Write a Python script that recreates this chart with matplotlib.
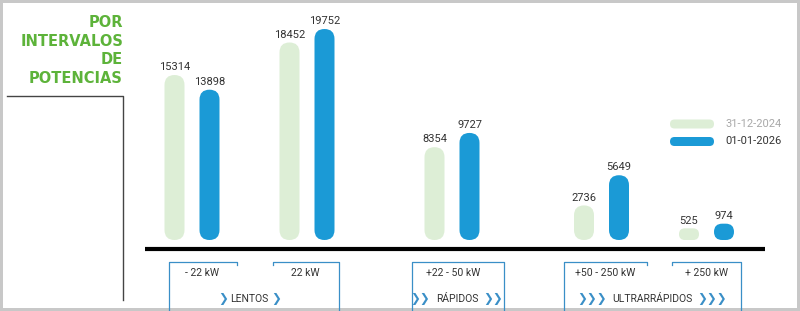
import matplotlib
matplotlib.use("Agg")
import matplotlib.pyplot as plt
from matplotlib.patches import FancyBboxPatch, Rectangle

# data
ranges = ["- 22 kW", "22 kW", "+22 - 50 kW", "+50 - 250 kW", "+ 250 kW"]
series = ["31-12-2024", "01-01-2026"]
val_2024 = [15314, 18452, 8354, 2736, 525]
val_2026 = [13898, 19752, 9727, 5649, 974]
groups = ["LENTOS", "RÁPIDOS", "ULTRARRÁPIDOS"]
chevrons = ["❯", "❯❯", "❯❯❯"]

# layout (pixel units, figure is 800x311)
W, H = 800, 311
range_x = [192, 307, 452, 601.5, 706.5]
pair_off = 17.5
bar_w = 20
bar_bottom_px = 240
base_val = -600
px_per_unit = 211 / (max(val_2026) - base_val)

LIGHT = "#ddeed6"
BLUE = "#1b9ad6"
GREEN = "#5db33a"
BOXBLUE = "#3a8fc7"
TXT = "#333333"
NUM_FONT = ["Roboto", "DejaVu Sans"]

fig = plt.figure(figsize=(W / 100, H / 100), dpi=100)
fig.patch.set_facecolor("white")

# bars axes: x in pixels, y in data units
ax = fig.add_axes([0, 0, 1, 1])
ax.set_xlim(0, W)
ax.set_ylim(base_val - (H - bar_bottom_px) / px_per_unit,
            base_val + bar_bottom_px / px_per_unit)
ax.axis("off")
ax.patch.set_alpha(0)

asp = 1 / px_per_unit


def pill(a, xc, y0, h, w, color, aspect):
    r = min(w / 2, h / aspect / 2)
    a.add_patch(FancyBboxPatch((xc - w / 2, y0), w, h,
                               boxstyle=f"round,pad=0,rounding_size={r}",
                               mutation_aspect=aspect, fc=color, ec="none"))


for i, x in enumerate(range_x):
    for v, dx, c in [(val_2024[i], -pair_off, LIGHT), (val_2026[i], pair_off, BLUE)]:
        pill(ax, x + dx, base_val, v - base_val, bar_w, c, asp)
        ax.annotate(str(v), (x + dx, v), xytext=(0, 2), textcoords="offset points",
                    ha="center", va="bottom", fontsize=8, color=TXT, family=NUM_FONT)

# decoration axes in pixel coordinates
dx_ = fig.add_axes([0, 0, 1, 1], zorder=2)
dx_.set_xlim(0, W)
dx_.set_ylim(H, 0)
dx_.axis("off")
dx_.patch.set_alpha(0)

# title
dx_.text(123, 15, "POR\nINTERVALOS\nDE\nPOTENCIAS", ha="right", va="top",
         multialignment="right", linespacing=1.3, fontsize=10.5, fontweight="bold",
         color=GREEN, family="DejaVu Sans")

# corner line
dx_.plot([7, 123, 123], [96, 96, 300], color="#444444", lw=1)

# baseline
dx_.plot([145, 765], [249, 249], color="black", lw=3, solid_capstyle="butt")

# legend
for j, (lab, c, tc) in enumerate(zip(series, [LIGHT, BLUE], ["#a8a8a8", TXT])):
    yc = 124 + j * 17.5
    dx_.add_patch(FancyBboxPatch((670, yc - 4.5), 44, 9,
                                 boxstyle="round,pad=0,rounding_size=4.5",
                                 fc=c, ec="none"))
    dx_.text(725, yc, lab, ha="left", va="center", fontsize=8, color=tc,
             family=NUM_FONT)

# bracket boxes under the baseline
box_kw = dict(color=BOXBLUE, lw=0.9)
dx_.plot([237, 237, 169, 169], [265, 262, 262, 311], **box_kw)
dx_.plot([273, 273, 339, 339], [265, 262, 262, 311], **box_kw)
dx_.plot([412, 412, 504, 504], [311, 262, 262, 311], **box_kw)
dx_.plot([647, 647, 564, 564], [265, 262, 262, 311], **box_kw)
dx_.plot([672, 672, 741, 741], [265, 262, 262, 311], **box_kw)

range_lab_x = [202, 305, 453, 605, 707]
for x, lab in zip(range_lab_x, ranges):
    dx_.text(x, 273, lab, ha="center", va="center", fontsize=7.5, color=TXT,
             family=NUM_FONT)

group_x = [249, 457, 652]
chev_pos = [(223, 276), (420, 493), (592, 712)]
for gx, lab, ch, (cl, cr) in zip(group_x, groups, chevrons, chev_pos):
    dx_.text(gx, 299, lab, ha="center", va="center", fontsize=7.5, color=TXT,
             family=NUM_FONT)
    for cx in (cl, cr):
        dx_.text(cx, 298.5, ch, ha="center", va="center", fontsize=8.5,
                 color=BOXBLUE, family="DejaVu Sans", fontweight="bold")

# grey frame
for rect in [(0, 0, 2.5, H), (0, 0, W, 2.5), (796.5, 0, 3.5, H), (0, 307.5, W, 3.5)]:
    dx_.add_patch(Rectangle(rect[:2], rect[2], rect[3], fc="#c8c8c8", ec="none"))

fig.savefig("out.png", dpi=100)
